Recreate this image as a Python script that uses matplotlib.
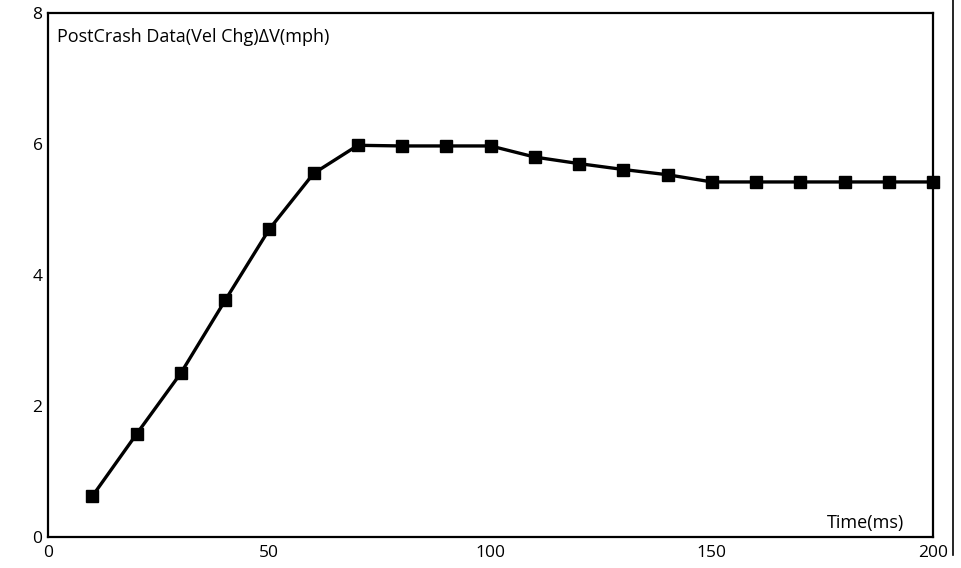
import matplotlib
matplotlib.use("Agg")
import matplotlib.pyplot as plt
from matplotlib.lines import Line2D

# PostCrash velocity change
time_ms = [10, 20, 30, 40, 50, 60, 70, 80, 90, 100,
           110, 120, 130, 140, 150, 160, 170, 180, 190, 200]
delta_v = [0.62, 1.57, 2.50, 3.61, 4.70, 5.55, 5.98, 5.97, 5.97, 5.97,
           5.80, 5.70, 5.61, 5.53, 5.42, 5.42, 5.42, 5.42, 5.42, 5.42]

x_ticks = [0, 50, 100, 150, 200]
y_ticks = [0, 2, 4, 6, 8]

plt.rcParams['font.family'] = ['Open Sans', 'DejaVu Sans']

fig = plt.figure(figsize=(9.62, 5.68), dpi=100)
ax = fig.add_axes([0.050, 0.055, 0.920, 0.922])

ax.plot(time_ms, delta_v, color='black', linewidth=2.4,
        marker='s', markersize=8.5, markerfacecolor='black',
        markeredgecolor='black', clip_on=False)

ax.set_xlim(0, 200)
ax.set_ylim(0, 8)
ax.set_xticks(x_ticks)
ax.set_yticks(y_ticks)
ax.tick_params(length=0, labelsize=12.5, pad=4)
ax.tick_params(axis='x', pad=6)
for s in ax.spines.values():
    s.set_linewidth(1.6)

ax.text(0.010, 0.972, 'PostCrash Data(Vel Chg)ΔV(mph)', transform=ax.transAxes,
        ha='left', va='top', fontsize=13)
ax.text(0.967, 0.010, 'Time(ms)', transform=ax.transAxes,
        ha='right', va='bottom', fontsize=13)

# stray vertical rule at the right edge of the original scan
fig.add_artist(Line2D([953 / 962, 953 / 962], [1.0, 1 - 555 / 568],
                      transform=fig.transFigure, color='black', linewidth=1.2))

fig.savefig('out.png', dpi=100)
